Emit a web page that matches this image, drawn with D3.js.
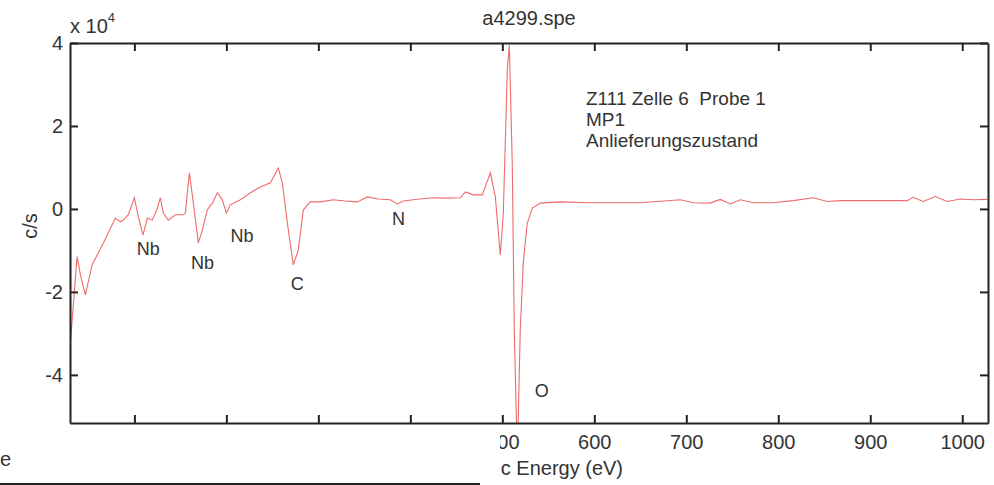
<!DOCTYPE html>
<html>
<head>
<meta charset="utf-8">
<script src="https://cdn.jsdelivr.net/npm/d3@7"></script>
<style>
  body { margin: 0; background: #fff; }
  text { font-family: "Liberation Sans", Arial, sans-serif; fill: #333; white-space: pre; }
</style>
</head>
<body>
<div id="grafico"></div>
<script>
const energia = [30.4, 37.7, 41.3, 46.7, 54.0, 66.3, 79.3, 84.8, 88.0, 93.4, 100.0, 104.3, 109.4, 114.1, 119.5,
  125.0, 128.2, 131.5, 136.9, 144.5, 153.2, 155.4, 159.8, 164.1, 169.5, 173.9, 179.3, 184.8, 190.2, 195.6,
  200.0, 204.3, 215.2, 226.1, 237.0, 247.8, 256.5, 260.8, 266.3, 272.8, 278.2, 283.7, 291.3, 302.1, 316.3,
  329, 342.4, 353.2, 365, 378.2, 385.8, 392.4, 410, 425.0, 440, 454.3, 459.8, 468.5, 478.3, 487.0,
  492.4, 497.8, 501.1, 505.4, 507.6, 510.8, 513.0, 516.3, 519.5, 522.8, 527.1, 532.6, 541.3, 563.0, 595.6,
  650.0, 693.5, 707.6, 726.0, 736.9, 747.8, 758.7, 772.8, 794.5, 816.3, 838.0, 853.3, 867.4, 903.3, 940.2,
  946.7, 957.6, 970.6, 983.7, 997.8, 1011.9, 1027.1];
const sinal = [-32300, -11500, -15900, -20700, -13500, -8200, -2200, -3100, -2700, -1400, 2700, -1900, -6300, -2200, -2700,
  200, 2700, -1000, -2700, -1400, -1400, -1000, 8700, 1400, -8200, -5100, -200, 1400, 3900, 2200,
  -1000, 1000, 2200, 3900, 5300, 6300, 9900, 6300, -3400, -13500, -9900, -200, 1700, 1700, 2200,
  1900, 1700, 2900, 2400, 2200, 1200, 1900, 2400, 2700, 2600, 2700, 4100, 3400, 3400, 8700,
  2900, -11100, -1000, 33500, 39500, 11100, -29200, -60000, -29200, -13000, -3400, 200, 1400, 1700, 1500,
  1500, 2200, 1500, 1400, 2300, 1200, 2200, 1500, 1500, 2000, 2700, 1800, 2000, 2000, 2000,
  2800, 1800, 3000, 1800, 2400, 2200, 2300];

// marcações dos picos
const picos = [
  {rotulo: "Nb", e: 115, v: -9600},
  {rotulo: "Nb", e: 174, v: -13000},
  {rotulo: "Nb", e: 217, v: -6500},
  {rotulo: "C", e: 277, v: -18100},
  {rotulo: "N", e: 387, v: -2400},
  {rotulo: "O", e: 543, v: -43900}
];
const anotacao = ["Z111 Zelle 6  Probe 1", "MP1", "Anlieferungszustand"];
const ticks_x = [100, 200, 300, 400, 500, 600, 700, 800, 900, 1000];
const ticks_y = [-40000, -20000, 0, 20000, 40000];

const largura = 994, altura = 485;
const m = {esq: 70, dir: 988, topo: 43, base: 423};

const x = d3.scaleLinear().domain([30, 1028]).range([m.esq, m.dir]);
const y = d3.scaleLinear().domain([-51600, 40000]).range([m.base, m.topo]);

const svg = d3.select("#grafico").append("svg")
    .attr("width", largura)
    .attr("height", altura);

svg.append("clipPath").attr("id", "area")
  .append("rect")
    .attr("x", m.esq).attr("y", m.topo)
    .attr("width", m.dir - m.esq).attr("height", m.base - m.topo);

const linha = d3.line()
    .x((_, i) => x(energia[i]))
    .y(d => y(d));

svg.append("path")
    .datum(sinal)
    .attr("clip-path", "url(#area)")
    .attr("fill", "none")
    .attr("stroke", "#ef6b6b")
    .attr("stroke-width", 1.1)
    .attr("d", linha);

// eixos com ticks para dentro
function estilo(g) {
  g.selectAll(".domain").attr("stroke", "#222").attr("stroke-width", 2);
  g.selectAll(".tick line").attr("stroke", "#222").attr("stroke-width", 2);
  g.selectAll(".tick text").attr("font-size", 20).style("fill", "#333");
}

svg.append("g")
    .attr("transform", `translate(0,${m.base})`)
    .call(d3.axisBottom(x).tickValues(ticks_x).tickSizeInner(-8).tickSizeOuter(0).tickPadding(12).tickFormat(d3.format("d")))
    .call(estilo);

svg.append("g")
    .attr("transform", `translate(0,${m.topo})`)
    .call(d3.axisTop(x).tickValues(ticks_x).tickSizeInner(-8).tickSizeOuter(0).tickFormat(""))
    .call(estilo);

svg.append("g")
    .attr("transform", `translate(${m.esq},0)`)
    .call(d3.axisLeft(y).tickValues(ticks_y).tickSizeInner(-8).tickSizeOuter(0).tickPadding(7).tickFormat(d => d / 1e4))
    .call(estilo);

svg.append("g")
    .attr("transform", `translate(${m.dir},0)`)
    .call(d3.axisRight(y).tickValues(ticks_y).tickSizeInner(-8).tickSizeOuter(0).tickFormat(""))
    .call(estilo);

// textos
svg.append("text")
    .attr("x", 529).attr("y", 25)
    .attr("text-anchor", "middle")
    .attr("font-size", 20)
    .text("a4299.spe");

const mult = svg.append("text")
    .attr("x", 70).attr("y", 33)
    .attr("font-size", 20)
    .text("x 10");
mult.append("tspan")
    .attr("dy", -11)
    .attr("font-size", 13)
    .text("4");

svg.append("text")
    .attr("transform", "translate(37,226) rotate(-90)")
    .attr("text-anchor", "middle")
    .attr("font-size", 20)
    .text("c/s");

svg.append("text")
    .attr("x", 623).attr("y", 475)
    .attr("text-anchor", "end")
    .attr("font-size", 20)
    .text("Kinetic Energy (eV)");

svg.selectAll(".pico")
  .data(picos)
  .join("text")
    .attr("class", "pico")
    .attr("x", d => x(d.e))
    .attr("y", d => y(d.v))
    .attr("dy", "0.35em")
    .attr("text-anchor", "middle")
    .attr("font-size", 18)
    .text(d => d.rotulo);

svg.selectAll(".anot")
  .data(anotacao)
  .join("text")
    .attr("class", "anot")
    .attr("x", 586)
    .attr("y", (_, i) => 105 + i * 21)
    .attr("font-size", 19)
    .text(d => d);

// recorte branco sobre o canto inferior esquerdo
svg.append("rect")
    .attr("x", 0).attr("y", 429)
    .attr("width", 500).attr("height", altura - 429)
    .attr("fill", "#fff");

svg.append("text")
    .attr("x", 0).attr("y", 466)
    .attr("font-size", 20)
    .text("e");

svg.append("line")
    .attr("x1", 0).attr("x2", 480)
    .attr("y1", 484).attr("y2", 484)
    .attr("stroke", "#222")
    .attr("stroke-width", 2);
</script>
</body>
</html>
